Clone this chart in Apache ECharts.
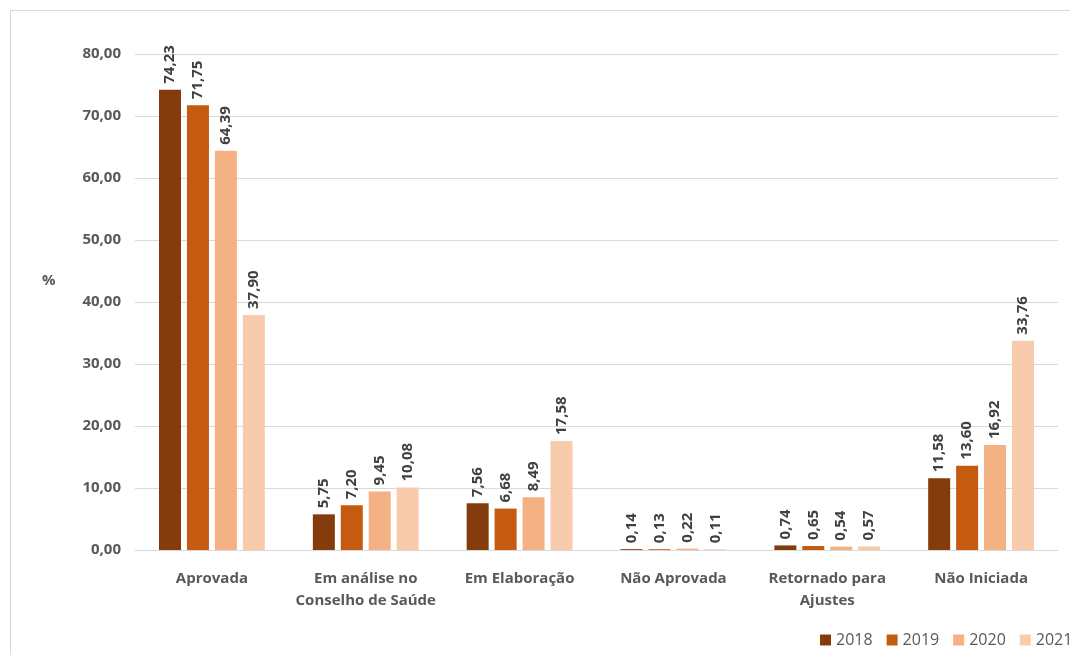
<!DOCTYPE html>
<html>
<head>
<meta charset="utf-8">
<script src="https://cdn.jsdelivr.net/npm/echarts@6/dist/echarts.min.js"></script>
<style>
  html, body { margin: 0; padding: 0; background: #fff; }
  #frame { position: absolute; left: 10px; top: 10px; width: 1080px; height: 660px; border: 1px solid #d9d9d9; }
  #chart { width: 1070px; height: 655px; }
</style>
</head>
<body>
<div id="frame"></div>
<div id="chart"></div>
<script>
var categories = ['Aprovada', 'Em análise no\nConselho de Saúde', 'Em Elaboração', 'Não Aprovada', 'Retornado para\nAjustes', 'Não Iniciada'];
var years = ['2018', '2019', '2020', '2021'];
var v2018 = [74.23, 5.75, 7.56, 0.14, 0.74, 11.58];
var v2019 = [71.75, 7.20, 6.68, 0.13, 0.65, 13.60];
var v2020 = [64.39, 9.45, 8.49, 0.22, 0.54, 16.92];
var v2021 = [37.90, 10.08, 17.58, 0.11, 0.57, 33.76];
var colors = ['#843C0C', '#C55A11', '#F4B183', '#F8CBAD'];

function fmt(v) { return v.toFixed(2).replace('.', ','); }

var chart = echarts.init(document.getElementById('chart'));
var allData = [v2018, v2019, v2020, v2021];
var series = years.map(function (y, i) {
    return {
        name: y,
        type: 'bar',
        data: allData[i],
        barWidth: 22,
        barGap: '27%',
        itemStyle: { color: colors[i] },
        label: {
            show: true,
            position: 'top',
            rotate: 90,
            align: 'left',
            verticalAlign: 'middle',
            distance: 6,
            color: '#404040',
            fontSize: 15,
            fontWeight: 'bold',
            formatter: function (p) { return fmt(p.value); }
        }
    };
});

chart.setOption({
    animation: false,
    textStyle: { fontFamily: 'Open Sans' },
    legend: {
        left: 815, top: 627, width: 500,
        itemWidth: 11, itemHeight: 11, itemGap: 14,
        icon: 'rect',
        textStyle: { color: '#595959', fontSize: 16 },
        data: years
    },
    graphic: [{
        type: 'text', left: 42, top: 273,
        style: { text: '%', fill: '#595959', font: 'bold 15px "Open Sans"' }
    }],
    grid: { left: 135, right: 12, top: 54, bottom: 105 },
    xAxis: {
        type: 'category',
        data: categories,
        axisLine: { lineStyle: { color: '#d9d9d9' } },
        axisTick: { show: false },
        axisLabel: { interval: 0, color: '#595959', fontSize: 15, fontWeight: 'bold', lineHeight: 22, margin: 18 }
    },
    yAxis: {
        type: 'value',
        min: 0, max: 80, interval: 10,
        axisLabel: { color: '#595959', fontSize: 15, fontWeight: 'bold', margin: 14, formatter: fmt },
        splitLine: { lineStyle: { color: '#d9d9d9' } }
    },
    series: series
});
</script>
</body>
</html>
